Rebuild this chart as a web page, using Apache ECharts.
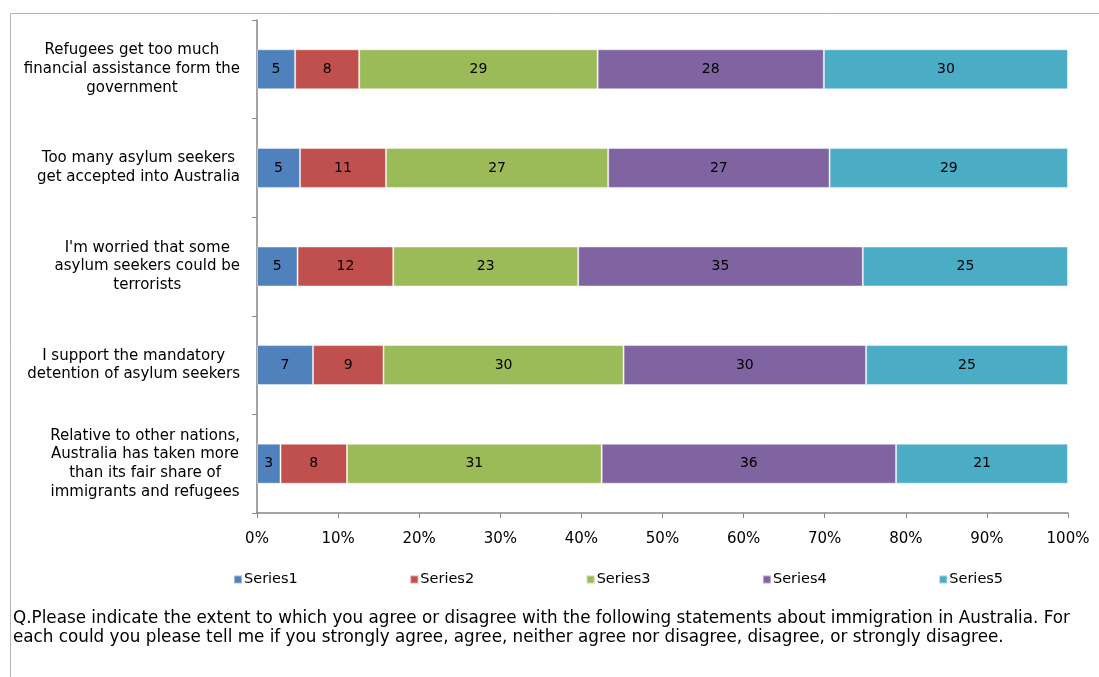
<!DOCTYPE html>
<html>
<head>
<meta charset="utf-8">
<script src="https://cdn.jsdelivr.net/npm/echarts@6/dist/echarts.min.js"></script>
<style>html,body{margin:0;padding:0;background:#fff;}#c{width:1099px;height:677px;}</style>
</head>
<body>
<div id="c"></div>
<script>
const categories = [
  "Refugees get too much\nfinancial assistance form the\ngovernment",
  "Too many asylum seekers\nget accepted into Australia",
  "I'm worried that some\nasylum seekers could be\nterrorists",
  "I support the mandatory\ndetention of asylum seekers",
  "Relative to other nations,\nAustralia has taken more\nthan its fair share of\nimmigrants and refugees"
];
const seriesNames = ["Series1", "Series2", "Series3", "Series4", "Series5"];
const series1 = [4.7, 5.3, 5.0, 6.9, 2.9];
const series2 = [7.9, 10.6, 11.8, 8.7, 8.2];
const series3 = [29.4, 27.4, 22.8, 29.6, 31.4];
const series4 = [27.9, 27.3, 35.1, 29.9, 36.3];
const series5 = [30.1, 29.4, 25.3, 24.9, 21.2];
const xTicks = [0, 10, 20, 30, 40, 50, 60, 70, 80, 90, 100];
const colors = ["#4F81BD", "#C0504D", "#9BBB59", "#8064A2", "#4BACC6"];
const footnote = "Q.Please indicate the extent to which you agree or disagree with the following statements about immigration in Australia. For\neach could you please tell me if you strongly agree, agree, neither agree nor disagree, disagree, or strongly disagree.";

const font = 'DejaVu Sans';
const allSeries = [series1, series2, series3, series4, series5];

const chart = echarts.init(document.getElementById('c'), null, {renderer: 'canvas'});
chart.setOption({
  animation: false,
  backgroundColor: '#fff',
  color: colors,
  title: {
    text: footnote,
    left: 8,
    top: 604,
    textStyle: {fontFamily: font, fontSize: 16.8, fontWeight: 'normal', color: '#000', lineHeight: 19}
  },
  legend: {
    data: seriesNames,
    left: 228,
    top: 567,
    itemWidth: 8,
    itemHeight: 8,
    itemGap: 111.5,
    icon: 'rect',
    textStyle: {fontFamily: font, fontSize: 14.5, color: '#000', padding: [0, 0, 0, -3]}
  },
  graphic: [{
    type: 'rect',
    shape: {x: 10.5, y: 13.5, width: 1200, height: 1000},
    style: {fill: 'none', stroke: '#b4b4b4', lineWidth: 1},
    silent: true,
    z: -1
  }],
  grid: {left: 257, right: 31, top: 20, bottom: 164},
  xAxis: {
    type: 'value',
    min: xTicks[0],
    max: xTicks[xTicks.length - 1],
    interval: 10,
    axisLine: {show: true, lineStyle: {color: '#868686', width: 1.5}},
    axisTick: {show: true, length: 5, lineStyle: {color: '#868686'}},
    splitLine: {show: false},
    axisLabel: {formatter: '{value}%', fontFamily: font, fontSize: 15, color: '#000', margin: 19}
  },
  yAxis: {
    type: 'category',
    inverse: true,
    data: categories,
    axisLine: {show: true, lineStyle: {color: '#868686', width: 1.5}},
    axisTick: {show: true, length: 5, lineStyle: {color: '#868686'}},
    axisLabel: {
      margin: 17,
      formatter: function (v) {
        return v.split('\n').map(function (l) { return '{c|' + l + '}'; }).join('\n');
      },
      rich: {
        c: {align: 'center', fontFamily: font, fontSize: 15, lineHeight: 18.7, color: '#000'}
      }
    }
  },
  series: allSeries.map(function (arr, i) {
    return {
      name: seriesNames[i],
      type: 'bar',
      stack: 'total',
      barWidth: 40,
      data: arr,
      itemStyle: {color: colors[i], borderColor: 'rgba(255,255,255,0.45)', borderWidth: 1},
      label: {
        show: true,
        position: 'inside',
        color: '#000',
        fontFamily: font,
        fontSize: 14,
        formatter: function (p) { return Math.round(p.value); }
      }
    };
  })
});
</script>
</body>
</html>
